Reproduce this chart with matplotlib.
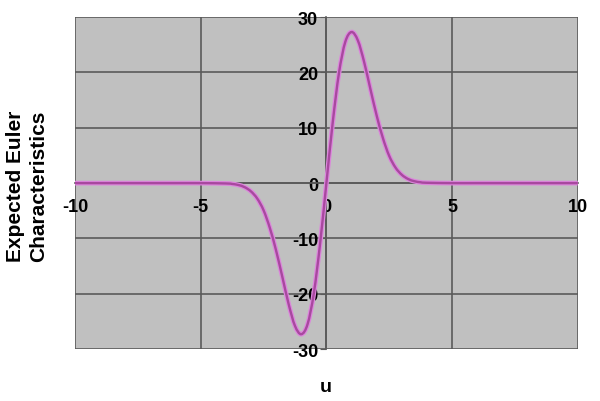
import matplotlib
matplotlib.use('Agg')
import matplotlib.pyplot as plt
from matplotlib.path import Path
from matplotlib.patches import PathPatch

# values
u = [-10, -9, -8, -7, -6, -5, -4, -3.75, -3.5, -3.25, -3, -2.75, -2.5, -2.25,
     -2, -1.75, -1.5, -1.25, -1, -0.75, -0.5, -0.25, 0, 0.25, 0.5, 0.75, 1,
     1.25, 1.5, 1.75, 2, 2.25, 2.5, 2.75, 3, 3.25, 3.5, 3.75, 4, 5, 6, 7, 8,
     9, 10]
ec = [0, 0, 0, 0, 0, 0, -0.06, -0.15, -0.34, -0.74, -1.5, -2.8, -4.9, -8.1,
      -12.2, -17.0, -21.9, -25.8, -27.3, -25.5, -19.9, -10.9, 0, 10.9, 19.9,
      25.5, 27.3, 25.8, 21.9, 17.0, 12.2, 8.1, 4.9, 2.8, 1.5, 0.74, 0.34,
      0.15, 0.06, 0, 0, 0, 0, 0, 0]

xticks = [-10, -5, 0, 5, 10]
yticks = [-30, -20, -10, 0, 10, 20, 30]

plt.rcParams['font.family'] = ['Liberation Sans', 'DejaVu Sans']
plt.rcParams['axes.unicode_minus'] = False


def smooth_path(xs, ys):
    # Excel-style smoothed line: Catmull-Rom segments as cubic Beziers
    verts = [(xs[0], ys[0])]
    codes = [Path.MOVETO]
    n = len(xs)
    for i in range(n - 1):
        x0, y0 = (xs[i - 1], ys[i - 1]) if i > 0 else (xs[i], ys[i])
        x1, y1 = xs[i], ys[i]
        x2, y2 = xs[i + 1], ys[i + 1]
        x3, y3 = (xs[i + 2], ys[i + 2]) if i + 2 < n else (x2, y2)
        c1 = (x1 + (x2 - x0) / 6, y1 + (y2 - y0) / 6)
        c2 = (x2 - (x3 - x1) / 6, y2 - (y3 - y1) / 6)
        verts += [c1, c2, (x2, y2)]
        codes += [Path.CURVE4] * 3
    return Path(verts, codes)


fig = plt.figure(figsize=(6, 4.02), dpi=100)
ax = fig.add_axes([0.125, 0.129, 0.838, 0.826])
ax.set_facecolor('#c0c0c0')

path = smooth_path(u, ec)
ax.add_patch(PathPatch(path, facecolor='none', edgecolor='#dc86dc',
                       linewidth=3.4, zorder=3))
ax.add_patch(PathPatch(path, facecolor='none', edgecolor='#a8489f',
                       linewidth=1.7, zorder=4))

ax.set_xlim(-10, 10)
ax.set_ylim(-30, 30)
ax.set_xticks(xticks)
ax.set_yticks(yticks)
ax.grid(True, color='#5a5a5a', linewidth=1.2, zorder=1)
ax.set_axisbelow(True)

for s in ['top', 'right']:
    ax.spines[s].set_visible(False)
ax.spines['left'].set_position(('data', 0))
ax.spines['bottom'].set_position(('data', 0))
ax.spines['left'].set_color('#5a5a5a')
ax.spines['bottom'].set_color('#5a5a5a')
ax.spines['left'].set_linewidth(1.2)
ax.spines['bottom'].set_linewidth(1.2)

ax.tick_params(axis='x', length=0, pad=11, labelsize=13)
ax.tick_params(axis='y', length=4, color='#5a5a5a', pad=2, labelsize=13)
for lab in ax.get_xticklabels() + ax.get_yticklabels():
    lab.set_fontweight('bold')

fig.text(0.045, 0.537, 'Expected Euler\nCharacteristics', rotation=90,
         ha='center', va='center', fontsize=15, fontweight='bold',
         linespacing=1.3)
fig.text(0.543, 0.035, 'u', ha='center', va='center', fontsize=14,
         fontweight='bold')

fig.savefig('out.png', dpi=100)
